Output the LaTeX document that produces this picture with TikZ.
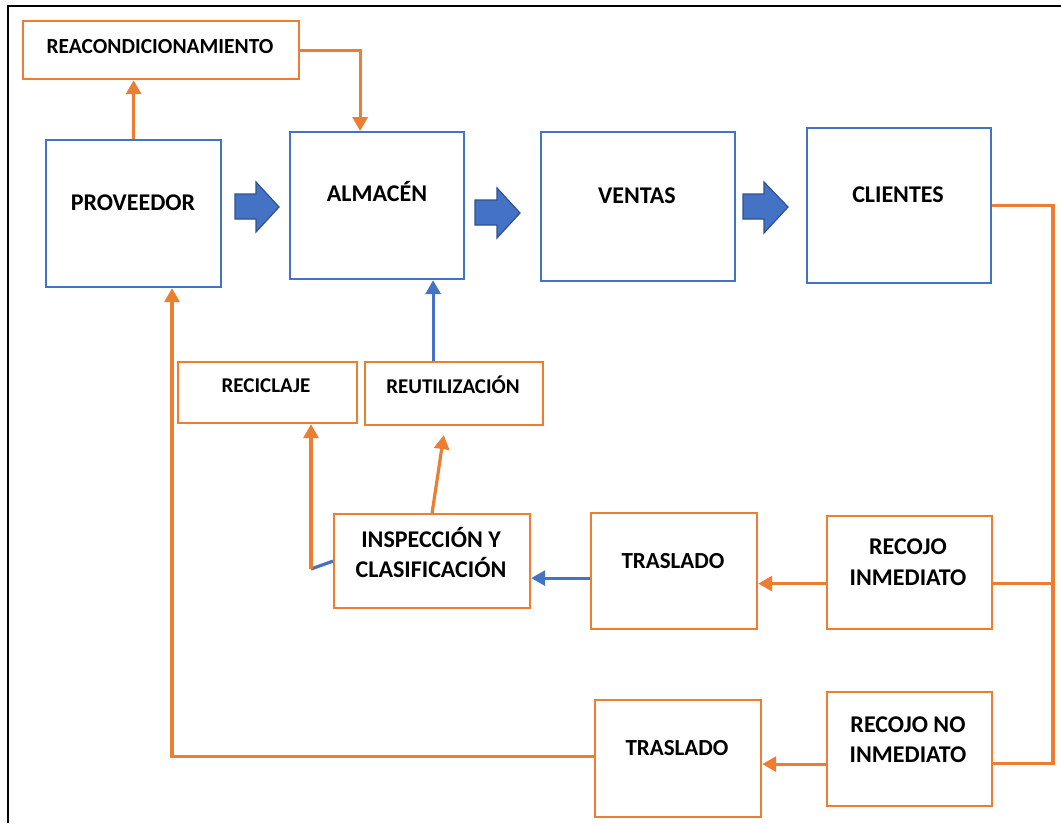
\documentclass[tikz,border=0pt]{standalone}
\usepackage{fontspec}
\setmainfont{Carlito}
\usetikzlibrary{arrows.meta,calc}
\definecolor{oblue}{HTML}{4472C4}
\definecolor{dblue}{HTML}{2F528F}
\definecolor{oorange}{HTML}{ED7D31}
\tikzset{
  bbox/.style={draw=oblue,line width=2.2pt,fill=white,anchor=north west,inner sep=0pt},
  obox/.style={draw=oorange,line width=2.2pt,fill=white,anchor=north west,inner sep=0pt},
  txt/.style={anchor=base,inner sep=0pt,font=\fontsize{24}{28}\selectfont\bfseries,align=center},
  mtxt/.style={anchor=base,inner sep=0pt,font=\fontsize{23}{28}\selectfont\bfseries},
  stxt/.style={anchor=base,inner sep=0pt,font=\fontsize{21}{24}\selectfont\bfseries},
  oline/.style={draw=oorange,line width=3.2pt},
  oarrow/.style={draw=oorange,line width=3.2pt,-{Triangle[width=15pt,length=14pt]}},
  bline/.style={draw=oblue,line width=3.2pt},
  barrow/.style={draw=oblue,line width=3.2pt,-{Triangle[width=15pt,length=14pt]}},
  blockarrow/.style={fill=oblue,draw=dblue,line width=1.2pt,line join=miter}
}
\begin{document}
\begin{tikzpicture}[x=1pt,y=-1pt]
\useasboundingbox (0,0) rectangle (1061,823);
\fill[white] (0,0) rectangle (1061,823);
\draw[black,line width=2pt] (8,823) -- (8,6) -- (1061,6);

% boxes
\node[obox,minimum width=276pt,minimum height=58pt] (reac) at (22,20) {};
\node[bbox,minimum width=175pt,minimum height=147pt] (prov) at (45,139) {};
\node[bbox,minimum width=174pt,minimum height=147pt] (alm) at (289,131) {};
\node[bbox,minimum width=194pt,minimum height=149pt] (ven) at (540,131) {};
\node[bbox,minimum width=184pt,minimum height=155pt] (cli) at (806,127) {};
\node[obox,minimum width=179pt,minimum height=61pt] (rec) at (177,361) {};
\node[obox,minimum width=178pt,minimum height=63pt] (reu) at (364,361) {};
\node[obox,minimum width=196pt,minimum height=94pt] (insp) at (333,513) {};
\node[obox,minimum width=166pt,minimum height=116pt] (tr1) at (590,512) {};
\node[obox,minimum width=165pt,minimum height=113pt] (ri) at (826,515) {};
\node[obox,minimum width=166pt,minimum height=117pt] (tr2) at (594,699) {};
\node[obox,minimum width=165pt,minimum height=114pt] (rni) at (826,691) {};

% texts
\node[stxt,font=\fontsize{21.5}{26}\selectfont\bfseries] (treac) at (160,53) {REACONDICIONAMIENTO};
\node[txt] (tprov) at (133,210) {PROVEEDOR};
\node[txt] (talm) at (377,201) {ALMACÉN};
\node[txt] (tven) at (637,203) {VENTAS};
\node[txt] (tcli) at (898,202) {CLIENTES};
\node[stxt] (trec) at (266,392) {RECICLAJE};
\node[stxt] (treu) at (453,393) {REUTILIZACIÓN};
\node[txt] (tinsp1) at (431,547) {INSPECCIÓN Y};
\node[txt] (tinsp2) at (431,577) {CLASIFICACIÓN};
\node[mtxt] (ttr1) at (673,568) {TRASLADO};
\node[txt] (tri1) at (908,554) {RECOJO};
\node[txt] (tri2) at (908,585) {INMEDIATO};
\node[mtxt] (ttr2) at (677,755) {TRASLADO};
\node[txt] (trni1) at (908,732) {RECOJO NO};
\node[txt] (trni2) at (908,762) {INMEDIATO};

% block arrows
\draw[blockarrow] (235,194) -- (256,194) -- (256,182) -- (279,207) -- (256,232) -- (256,219) -- (235,219) -- cycle;
\draw[blockarrow] (475,200) -- (497,200) -- (497,188) -- (520,213) -- (497,238) -- (497,225) -- (475,225) -- cycle;
\draw[blockarrow] (743,194) -- (764,194) -- (764,182) -- (788,207) -- (764,233) -- (764,219) -- (743,219) -- cycle;

% connector anchors
\coordinate (bus) at (1053,0);
\coordinate (rj) at (311,569);
\coordinate (rl) at (172,0);
\coordinate (rniE) at ([yshift=-14pt]rni.east);
\coordinate (rniW) at ([yshift=-15pt]rni.west);
\coordinate (riE) at ([yshift=-11pt]ri.east);
\coordinate (riW) at ([yshift=-11pt]ri.west);
\coordinate (tr1W) at ([yshift=-7pt]tr1.west);
\coordinate (tr2W) at ([yshift=2pt]tr2.west);
\coordinate (reuN) at ([xshift=-21pt]reu.north);
\coordinate (reuS) at ([xshift=-9pt]reu.south);
\coordinate (almN) at ([xshift=-17pt]alm.north);

% connectors
\draw[oarrow] (prov.north) -- (prov.north |- reac.south);
\draw[oarrow] (reac.east) -| (almN);
\draw[oline] (cli.east) -| (bus |- rniE) -- (rniE);
\draw[oline] (riE) -- (bus |- riE);
\draw[oarrow] (riW) -- (riW -| tr1.east);
\draw[barrow] (tr1W) -- (tr1W -| insp.east);
\draw[oarrow] (rniW) -- (rniW -| tr2.east);
\draw[oarrow] (tr2W) -| (rl |- prov.south);
\draw[barrow] (reuN) -- (reuN |- alm.south);
\draw[oarrow,shorten >=9pt] (insp.north) -- (reuS);
\draw[bline] (insp.west) -- (rj);
\draw[oarrow] (rj) -- (rj |- rec.south);
\end{tikzpicture}
\end{document}
